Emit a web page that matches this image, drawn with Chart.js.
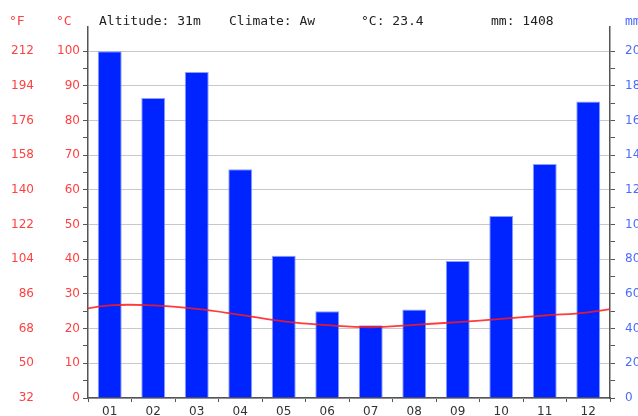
<!DOCTYPE html>
<html>
<head>
<meta charset="utf-8">
<script src="https://cdn.jsdelivr.net/npm/chart.js@4/dist/chart.umd.min.js"></script>
<style>
    html, body { margin: 0; padding: 0; background: #fff; overflow: hidden; }
    #wrap { position: relative; width: 638px; height: 416px; overflow: hidden; }
    #climate-chart { position: absolute; left: 0; top: 0; }
    .hd { position: absolute; top: 12px; line-height: 18px; font-family: 'DejaVu Sans Mono', monospace; font-size: 13px; color: #222; white-space: pre; }
</style>
</head>
<body>
<div id="wrap">
    <canvas id="climate-chart" width="680" height="416"></canvas>
    <div class="hd" style="left:9px;color:#ff4040;">°F</div>
    <div class="hd" style="left:56px;color:#ff4040;">°C</div>
    <div class="hd" style="left:99px;">Altitude: 31m</div>
    <div class="hd" style="left:229px;">Climate: Aw</div>
    <div class="hd" style="left:361px;">°C: 23.4</div>
    <div class="hd" style="left:491px;">mm: 1408</div>
    <div class="hd" style="left:625px;color:#4a6bff;">mm</div>
</div>
<script>
var months = ['01', '02', '03', '04', '05', '06', '07', '08', '09', '10', '11', '12'];
var precipMm = [200, 173, 188, 132, 82, 50, 42, 51, 79, 105, 135, 171];
var tempC = [26.7, 26.7, 25.7, 24.0, 22.1, 21.0, 20.4, 21.1, 21.9, 22.8, 23.8, 24.7];
var tempCTicks = ['0', '10', '20', '30', '40', '50', '60', '70', '80', '90', '100'];
var tempFTicks = ['32', '50', '68', '86', '104', '122', '140', '158', '176', '194', '212'];
var mmTicks = ['0', '20', '40', '60', '80', '100', '120', '140', '160', '180', '200'];

var C_MAX = 107;
var AXIS_COLOR = '#555';
var GRID_COLOR = '#c8c8c8';

Chart.defaults.font.family = "'DejaVu Sans', sans-serif";
Chart.defaults.font.size = 12;

// line points: wrap Dec before Jan and Jan after Dec so the curve runs to both edges
var tempPoints = [{ x: 0, y: tempC[11] }];
for (var i = 0; i < tempC.length; i++) {
    tempPoints.push({ x: i + 1, y: tempC[i] });
}
tempPoints.push({ x: 13, y: tempC[0] });

function stepTicks(step, count) {
    var t = [];
    for (var k = 0; k <= count; k++) t.push({ value: k * step });
    return t;
}

var ctx = document.getElementById('climate-chart').getContext('2d');
var chart = new Chart(ctx, {
    type: 'bar',
    data: {
        labels: months,
        datasets: [{
            type: 'line',
            label: '°C',
            data: tempPoints,
            xAxisID: 'xl',
            yAxisID: 'y',
            borderColor: 'rgba(255,25,25,0.85)',
            borderWidth: 1.8,
            pointRadius: 0,
            tension: 0.4,
            order: 0
        }, {
            type: 'bar',
            label: 'mm',
            data: precipMm,
            xAxisID: 'x',
            yAxisID: 'yR',
            backgroundColor: '#0024ff',
            borderColor: 'rgba(130,150,255,0.9)',
            borderWidth: 1,
            grouped: false,
            categoryPercentage: 1,
            barPercentage: 0.55,
            order: 1
        }]
    },
    options: {
        responsive: false,
        animation: false,
        layout: { padding: { top: 27, left: 0, right: 0, bottom: 0 } },
        plugins: { legend: { display: false }, tooltip: { enabled: false } },
        scales: {
            x: {
                type: 'category',
                position: 'bottom',
                offset: true,
                grid: { drawOnChartArea: false, tickLength: 4, tickColor: AXIS_COLOR, offset: true },
                border: { color: AXIS_COLOR, width: 1.5 },
                ticks: { color: '#333', padding: 3, maxRotation: 0 },
                afterFit: function(s) { s.height = 18; }
            },
            xl: {
                type: 'linear',
                axis: 'x',
                position: 'bottom',
                display: false,
                offset: false,
                grid: { offset: false },
                bounds: 'ticks',
                min: 0.5,
                max: 12.5
            },
            y: {
                position: 'left',
                weight: 0,
                min: 0,
                max: C_MAX,
                afterBuildTicks: function(s) { s.ticks = stepTicks(5, 20); },
                grid: {
                    color: function(c) { return (c.tick && c.tick.value % 10 === 0) ? GRID_COLOR : 'rgba(0,0,0,0)'; },
                    tickColor: AXIS_COLOR,
                    tickLength: 5
                },
                border: { color: AXIS_COLOR, width: 1.5 },
                ticks: {
                    color: '#ff4040',
                    padding: 3,
                    autoSkip: false,
                    callback: function(v) { return v % 10 === 0 ? tempCTicks[v / 10] : ''; }
                },
                afterFit: function(s) { s.width = 48; }
            },
            yF: {
                position: 'left',
                weight: 1,
                min: 0,
                max: C_MAX,
                afterBuildTicks: function(s) { s.ticks = stepTicks(10, 10); },
                grid: { display: false, drawTicks: false },
                border: { display: false },
                ticks: {
                    color: '#ff4040',
                    padding: 6,
                    autoSkip: false,
                    callback: function(v, idx) { return tempFTicks[idx]; }
                },
                afterFit: function(s) { s.width = 40; }
            },
            yR: {
                position: 'right',
                min: 0,
                max: C_MAX * 2,
                afterBuildTicks: function(s) { s.ticks = stepTicks(10, 20); },
                grid: { drawOnChartArea: false, tickColor: AXIS_COLOR, tickLength: 5 },
                border: { color: AXIS_COLOR, width: 1.5 },
                ticks: {
                    color: '#4a6bff',
                    padding: 10,
                    autoSkip: false,
                    callback: function(v) { return v % 20 === 0 ? mmTicks[v / 20] : ''; }
                },
                afterFit: function(s) { s.width = 70; }
            }
        }
    }
});
</script>
</body>
</html>
